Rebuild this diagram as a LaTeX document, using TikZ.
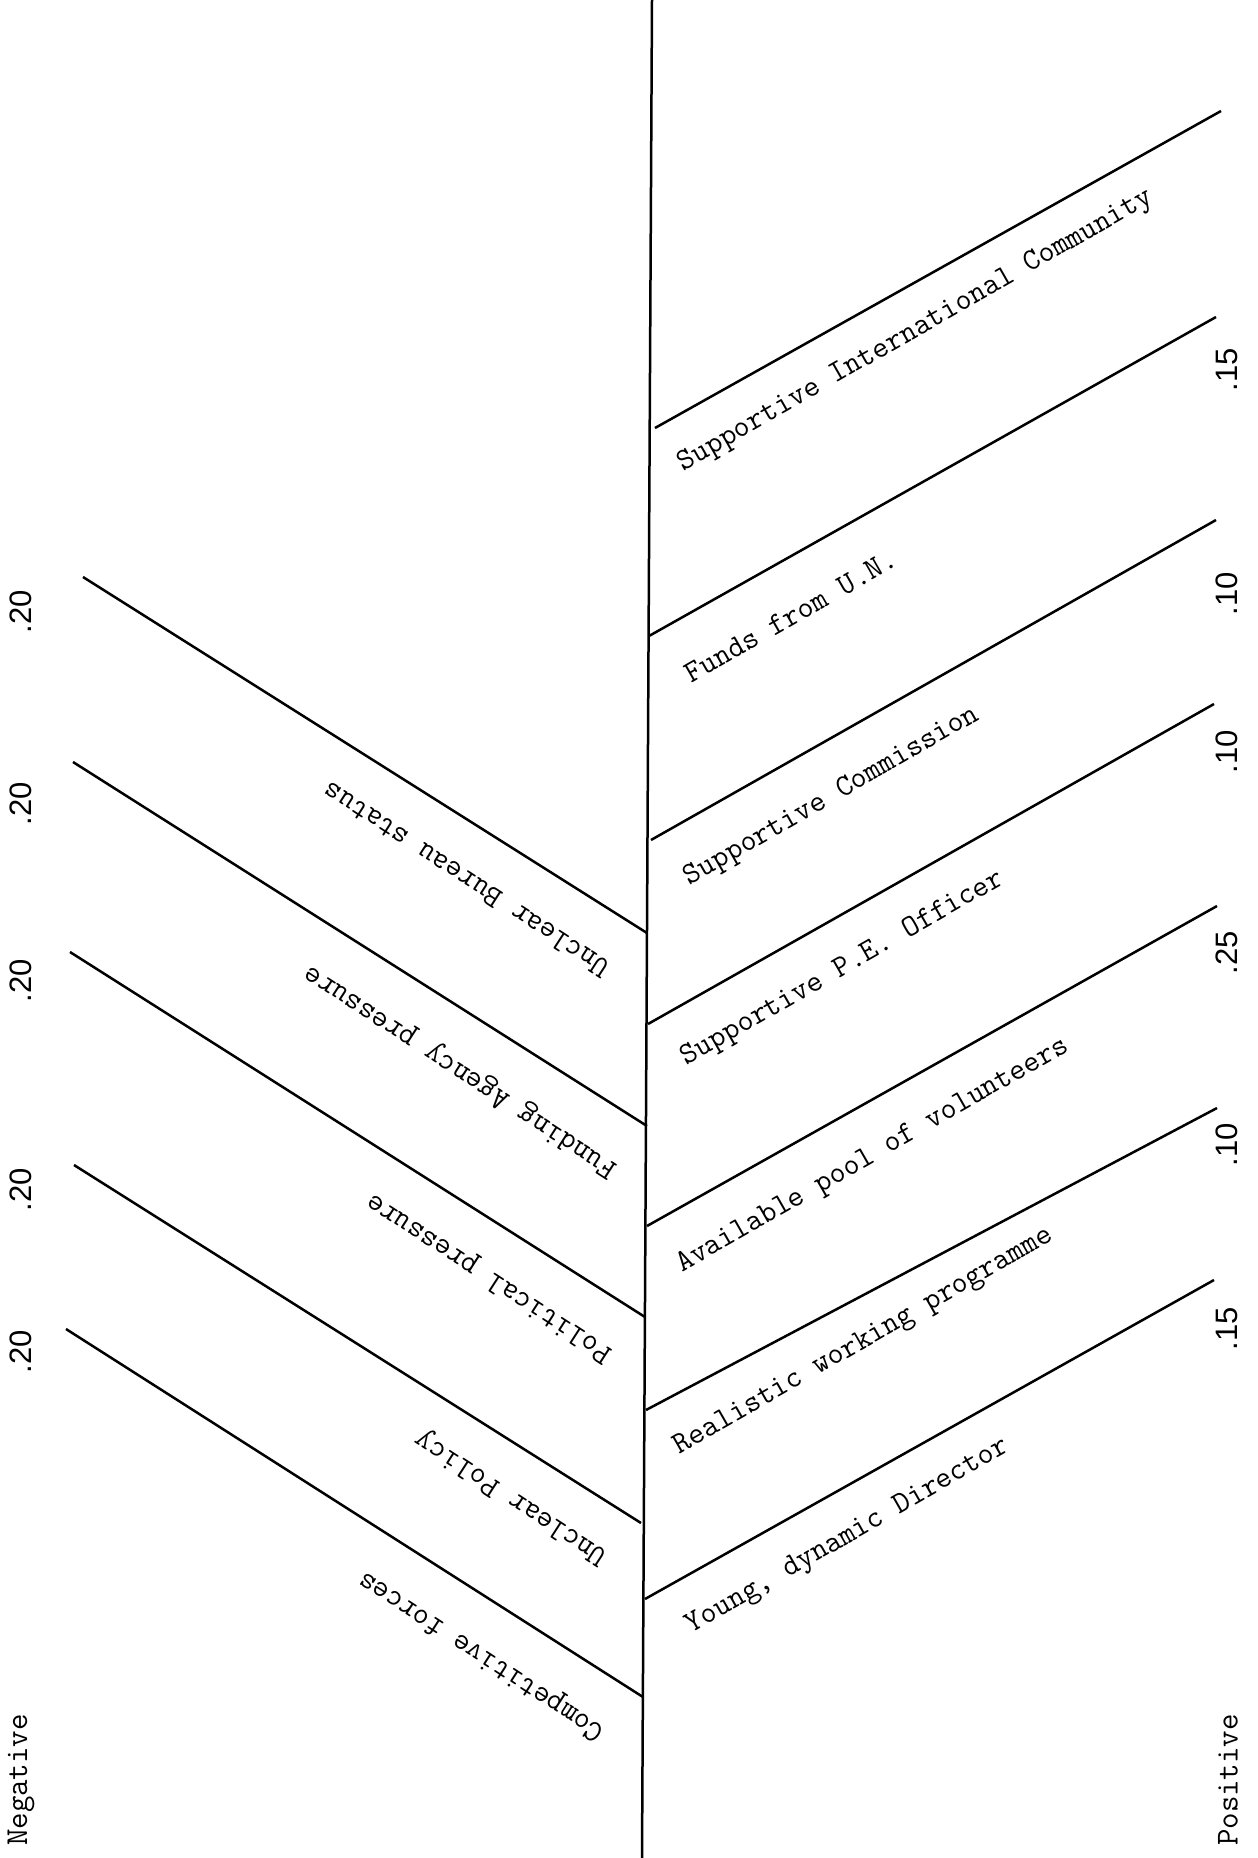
\documentclass[tikz,border=0pt]{standalone}
\usepackage{fontspec}
\newfontfamily\numfont{Liberation Sans}
\begin{document}
\begin{tikzpicture}[x=1pt,y=-1pt,
  ln/.style={line width=2.5pt},
  rlab/.style={font=\fontsize{31}{36}\selectfont\ttfamily, inner sep=0pt, anchor=center, rotate=29.8},
  llab/.style={font=\fontsize{31}{36}\selectfont\ttfamily, inner sep=0pt, anchor=center, rotate=147},
  num/.style={font=\fontsize{31}{36}\selectfont\numfont, rotate=90, inner sep=0pt, anchor=center},
  sidelab/.style={font=\fontsize{32}{36}\selectfont\ttfamily, rotate=90, inner sep=0pt, anchor=center}]
\useasboundingbox (0,0) rectangle (1258,1858);
% main axis
\coordinate (top) at (652,0);
\coordinate (bot) at (642,1858);
\draw[ln] (top) -- (bot);
% positive forces (right)
\coordinate (r1a) at (655,428);  \coordinate (r1b) at (1221,111);
\coordinate (r2a) at (649,636);  \coordinate (r2b) at (1216,317);
\coordinate (r3a) at (651,840);  \coordinate (r3b) at (1216,520);
\coordinate (r4a) at (648,1024); \coordinate (r4b) at (1214,704);
\coordinate (r5a) at (647,1226); \coordinate (r5b) at (1217,906);
\coordinate (r6a) at (646,1410); \coordinate (r6b) at (1217,1108);
\coordinate (r7a) at (645,1599); \coordinate (r7b) at (1214,1280);
\foreach \i in {1,...,7} {\draw[ln] (r\i a) -- (r\i b);}
% negative forces (left)
\coordinate (l1a) at (83,577);  \coordinate (l1b) at (647,933);
\coordinate (l2a) at (73,762);  \coordinate (l2b) at (647,1126);
\coordinate (l3a) at (70,952);  \coordinate (l3b) at (645,1317);
\coordinate (l4a) at (74,1165); \coordinate (l4b) at (641,1523);
\coordinate (l5a) at (66,1329); \coordinate (l5b) at (643,1697);
\foreach \i in {1,...,5} {\draw[ln] (l\i a) -- (l\i b);}
% right labels
\node[rlab] (t1) at (916,331) {Supportive International Community};
\node[rlab] (t2) at (791,616) {Funds from U.N.};
\node[rlab] (t3) at (832,797) {Supportive Commission};
\node[rlab] (t4) at (843,969) {Supportive P.E. Officer};
\node[rlab] (t5) at (873,1156) {Available pool of volunteers};
\node[rlab] (t6) at (864,1342) {Realistic working programme};
\node[rlab] (t7) at (848,1537) {Young, dynamic Director};
% left labels
\node[llab] (u1) at (466,880) {Unclear Bureau status};
\node[llab] (u2) at (461,1071) {Funding Agency pressure};
\node[llab] (u3) at (490,1277) {Political pressure};
\node[llab] (u4) at (512,1497) {Unclear Policy};
\node[llab] (u5) at (482,1655) {Competitive forces};
% weights right
\node[num] (p1) at (1227,370) {.15};
\node[num] (p2) at (1227,594) {.10};
\node[num] (p3) at (1227,752) {.10};
\node[num] (p4) at (1227,953) {.25};
\node[num] (p5) at (1227,1145) {.10};
\node[num] (p6) at (1227,1329) {.15};
% weights left
\node[num] (n1) at (21,612) {.20};
\node[num] (n2) at (21,804) {.20};
\node[num] (n3) at (21,981) {.20};
\node[num] (n4) at (21,1190) {.20};
\node[num] (n5) at (21,1352) {.20};
% side titles
\node[sidelab] (neg) at (21,1780) {Negative};
\node[sidelab] (pos) at (1228,1780) {Positive};
\end{tikzpicture}
\end{document}
